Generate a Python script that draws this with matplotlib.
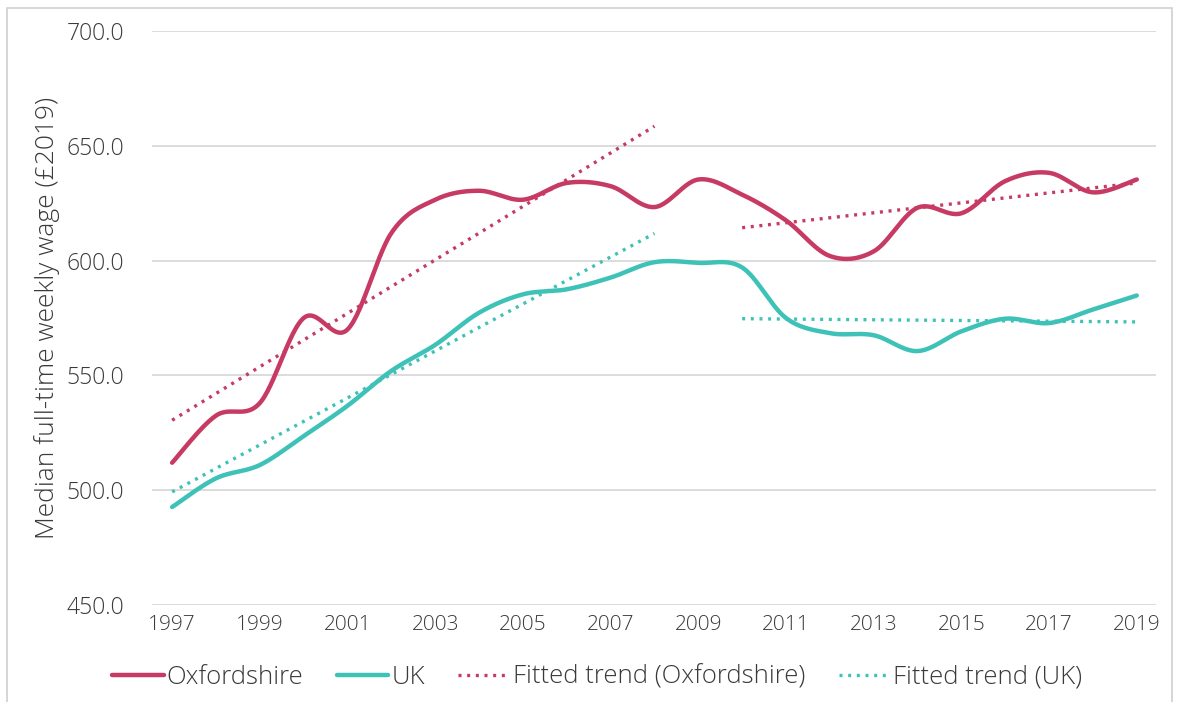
import matplotlib
matplotlib.use("Agg")
import matplotlib.pyplot as plt
from matplotlib.patches import Rectangle
import numpy as np

years = list(range(1997, 2020))
oxfordshire = [512, 532.5, 538, 575, 570, 612, 626.5, 630.4, 626.5, 633.8, 632.4, 623.3,
               635.3, 628.7, 617.5, 602, 604, 623, 620.6, 634.6, 638.2, 629.7, 635.3]
uk = [492.7, 505.2, 511, 523.6, 536.8, 552, 563.3, 577.3, 585.3, 587.5, 592.6, 599.3,
      599, 597, 575, 568.4, 567.5, 560.6, 569.2, 574.7, 572.8, 578.7, 584.8]

# fitted trend segments (start year, end year) and values
trend_years_1 = [1997, 2008]
trend_years_2 = [2010, 2019]
trend_ox_1 = [530.5, 658.5]
trend_ox_2 = [614.3, 633.8]
trend_uk_1 = [499.3, 611.8]
trend_uk_2 = [574.7, 573.3]

c_ox = "#C63A63"
c_uk = "#3EC2B8"
c_txt = "#3a3a3a"
font = "Open Sans"


def smooth(x, y, n=30):
    # Catmull-Rom style smoothing like the office "smoothed line"
    x = np.asarray(x, float)
    y = np.asarray(y, float)
    px = np.concatenate([[x[0]], x, [x[-1]]])
    py = np.concatenate([[y[0]], y, [y[-1]]])
    xs, ys = [], []
    t = np.linspace(0, 1, n)
    for i in range(1, len(px) - 2):
        p0 = np.array([px[i], py[i]])
        p3 = np.array([px[i + 1], py[i + 1]])
        p1 = p0 + (p3 - np.array([px[i - 1], py[i - 1]])) / 6
        p2 = p3 - (np.array([px[i + 2], py[i + 2]]) - p0) / 6
        b = ((1 - t) ** 3)[:, None] * p0 + (3 * (1 - t) ** 2 * t)[:, None] * p1 \
            + (3 * (1 - t) * t ** 2)[:, None] * p2 + (t ** 3)[:, None] * p3
        xs.extend(b[:, 0])
        ys.extend(b[:, 1])
    return xs, ys


fig = plt.figure(figsize=(11.78, 7.02), dpi=100)
ax = fig.add_axes([0.129, 0.138, 0.852, 0.818])

fig.patches.append(Rectangle((7 / 1178, -0.1), 1165 / 1178, 1.1 - 8 / 702,
                             transform=fig.transFigure, fill=False,
                             edgecolor="#d0d0d0", lw=1.2))

dots = (0, (0.9, 1.7))
ax.plot(trend_years_1, trend_ox_1, color=c_ox, lw=2.4, ls=dots, label="Fitted trend (Oxfordshire)", zorder=2)
ax.plot(trend_years_2, trend_ox_2, color=c_ox, lw=2.4, ls=dots, zorder=2)
ax.plot(trend_years_1, trend_uk_1, color=c_uk, lw=2.4, ls=dots, label="Fitted trend (UK)", zorder=2)
ax.plot(trend_years_2, trend_uk_2, color=c_uk, lw=2.4, ls=dots, zorder=2)

sx, sy = smooth(years, oxfordshire)
ax.plot(sx, sy, color=c_ox, lw=3.2, label="Oxfordshire", solid_capstyle="round", zorder=3)
sx, sy = smooth(years, uk)
ax.plot(sx, sy, color=c_uk, lw=3.2, label="UK", solid_capstyle="round", zorder=3)

ax.set_xlim(1996.54, 2019.43)
ax.set_ylim(450, 700)
ax.set_yticks(np.arange(450, 701, 50))
ax.set_yticklabels([f"{v:.1f}" for v in np.arange(450, 701, 50)])
ax.set_xticks(years[::2])
ax.grid(axis="y", color="#d9d9d9", lw=1.3)
ax.set_axisbelow(True)
for s in ax.spines.values():
    s.set_visible(False)
ax.tick_params(length=0, labelsize=15, labelcolor=c_txt, pad=7)
ax.tick_params(axis="y", labelsize=16.5, pad=20)
for lab in ax.get_xticklabels() + ax.get_yticklabels():
    lab.set_fontfamily(font)
    lab.set_fontweight("light")

ax.set_ylabel("Median full-time weekly wage (£2019)", fontsize=19, color=c_txt,
              fontfamily=font, fontweight="light", labelpad=5)

h, l = ax.get_legend_handles_labels()
order = [2, 3, 0, 1]
leg = fig.legend([h[i] for i in order], [l[i] for i in order], loc="center",
                 bbox_to_anchor=(0.507, 0.035), ncol=4, frameon=False,
                 prop={"family": font, "size": 18.5, "weight": "light"}, handlelength=2.0,
                 handletextpad=0.12, columnspacing=1.3)
for t in leg.get_texts():
    t.set_color(c_txt)

fig.savefig("out.png", dpi=100)
